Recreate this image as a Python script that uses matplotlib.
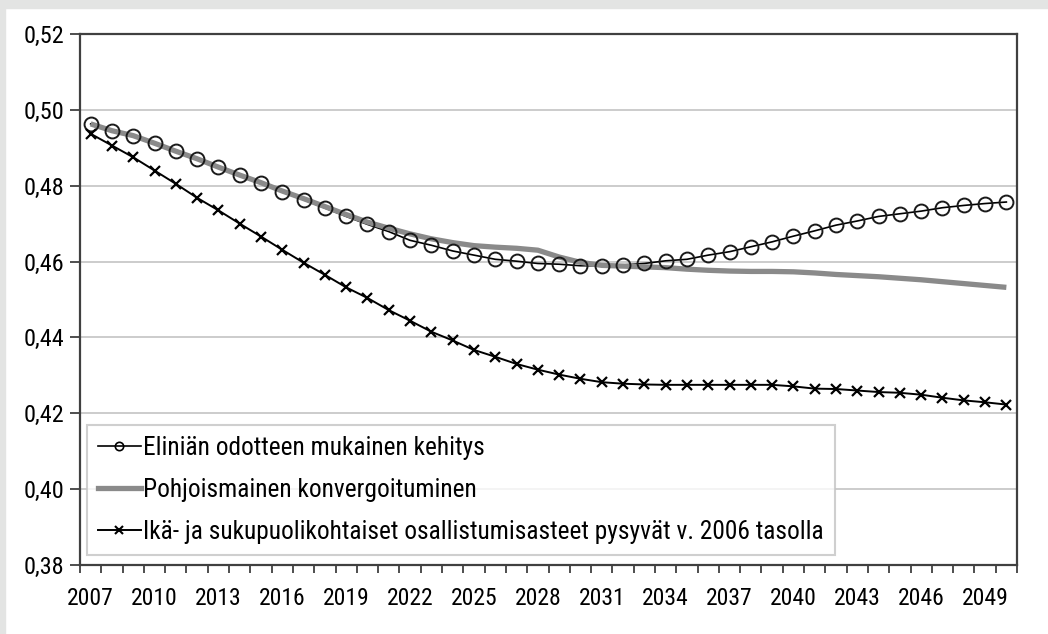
import matplotlib
matplotlib.use("Agg")
import matplotlib.pyplot as plt
from matplotlib.lines import Line2D
from matplotlib.patches import Rectangle
import numpy as np

plt.rcParams['font.family'] = ['Roboto Condensed', 'DejaVu Sans']
plt.rcParams['font.stretch'] = 'condensed'

years = list(range(2007, 2051))

elinika = [0.4963, 0.4945, 0.4932, 0.4912, 0.4891, 0.4871, 0.4849, 0.4827, 0.4807, 0.4783,
           0.4763, 0.4741, 0.4719, 0.4698, 0.4679, 0.4656, 0.4643, 0.4628, 0.4617, 0.4606,
           0.4601, 0.4595, 0.4593, 0.4589, 0.4589, 0.4591, 0.4595, 0.4602, 0.4606, 0.4617,
           0.4626, 0.4639, 0.4652, 0.4667, 0.4681, 0.4696, 0.4707, 0.4719, 0.4726, 0.4733,
           0.4742, 0.4748, 0.4753, 0.4757]

pohjoismainen = [0.4963, 0.4945, 0.4932, 0.4912, 0.4891, 0.4871, 0.4849, 0.4828, 0.4808, 0.4786,
                 0.4766, 0.4745, 0.4724, 0.4704, 0.4688, 0.4673, 0.4660, 0.4650, 0.4642, 0.4638,
                 0.4635, 0.4630, 0.4612, 0.4598, 0.4590, 0.4588, 0.4586, 0.4584, 0.4580, 0.4577,
                 0.4575, 0.4574, 0.4574, 0.4573, 0.4570, 0.4566, 0.4563, 0.4560, 0.4556, 0.4552,
                 0.4547, 0.4542, 0.4537, 0.4532]

ika_sukupuoli = [0.4937, 0.4906, 0.4875, 0.4840, 0.4805, 0.4768, 0.4735, 0.4700, 0.4666, 0.4631,
                 0.4597, 0.4565, 0.4532, 0.4504, 0.4472, 0.4444, 0.4415, 0.4392, 0.4367, 0.4349,
                 0.4330, 0.4315, 0.4302, 0.4291, 0.4282, 0.4278, 0.4276, 0.4275, 0.4275, 0.4275,
                 0.4275, 0.4275, 0.4275, 0.4271, 0.4265, 0.4264, 0.4260, 0.4256, 0.4254, 0.4249,
                 0.4241, 0.4234, 0.4229, 0.4223]

labels = ["Eliniän odotteen mukainen kehitys",
          "Pohjoismainen konvergoituminen",
          "Ikä- ja sukupuolikohtaiset osallistumisasteet pysyvät v. 2006 tasolla"]

ytick_vals = [0.38, 0.40, 0.42, 0.44, 0.46, 0.48, 0.50, 0.52]
ytick_labels = ["0,38", "0,40", "0,42", "0,44", "0,46", "0,48", "0,50", "0,52"]
xlabel_years = list(range(2007, 2050, 3))

W, H = 1048, 634
fig = plt.figure(figsize=(W / 100, H / 100), dpi=100)
fig.patch.set_facecolor('white')
fig.patches.append(Rectangle((0, 0), 5 / W, 1, transform=fig.transFigure, color='#e3e4e3', zorder=0))
fig.patches.append(Rectangle((0, 1 - 8 / H), 1, 8 / H, transform=fig.transFigure, color='#e3e4e3', zorder=0))

ax = fig.add_axes([80 / W, (H - 565) / H, 937 / W, 531 / H])

ax.plot(years, elinika, color='black', lw=1.2, zorder=3)
ax.plot(years, pohjoismainen, color='#8a8a8a', lw=3.8, zorder=4, solid_capstyle='butt')
ax.plot(years, elinika, linestyle='none', marker='o', markersize=10, markerfacecolor='none',
        markeredgecolor='#1a1a1a', markeredgewidth=1.4, zorder=5)
ax.plot(years, ika_sukupuoli, color='black', lw=1.4, marker='x', markersize=7.5,
        markeredgewidth=1.6, zorder=6)

ax.set_xlim(2006.5, 2050.5)
ax.set_ylim(0.38, 0.52)

ax.set_yticks(ytick_vals)
ax.set_yticklabels(ytick_labels)
ax.yaxis.grid(True, color='#c4c4c4', lw=1.2)
ax.set_axisbelow(True)

ax.set_xticks(np.arange(2006.5, 2051, 1.0))
ax.set_xticklabels([])
ax.set_xticks(xlabel_years, minor=True)
ax.set_xticklabels([str(y) for y in xlabel_years], minor=True)
ax.tick_params(axis='x', which='major', direction='out', length=6, width=1.3, color='#404040')
ax.tick_params(axis='x', which='minor', length=0, pad=16, labelsize=17)
ax.tick_params(axis='y', direction='out', length=7, width=1.3, color='#404040', pad=4, labelsize=17.5)

for s in ax.spines.values():
    s.set_color('#404040')
    s.set_linewidth(1.6)

handles = [
    Line2D([], [], color='black', lw=1.2, marker='o', markersize=6, markerfacecolor='none',
           markeredgecolor='black', markeredgewidth=1.2),
    Line2D([], [], color='#8a8a8a', lw=3.8),
    Line2D([], [], color='black', lw=1.4, marker='x', markersize=6, markeredgewidth=1.5),
]
leg = ax.legend(handles, labels, loc='lower left', bbox_to_anchor=(7 / 937, 10 / 531),
                borderaxespad=0, frameon=True, fancybox=False, fontsize=18.3,
                handlelength=1.7, handletextpad=0.1, labelspacing=0.72, borderpad=0.42)
leg.get_frame().set_edgecolor('#c4c4c4')
leg.get_frame().set_linewidth(1.5)

fig.savefig('out.png', dpi=100, facecolor=fig.get_facecolor())
